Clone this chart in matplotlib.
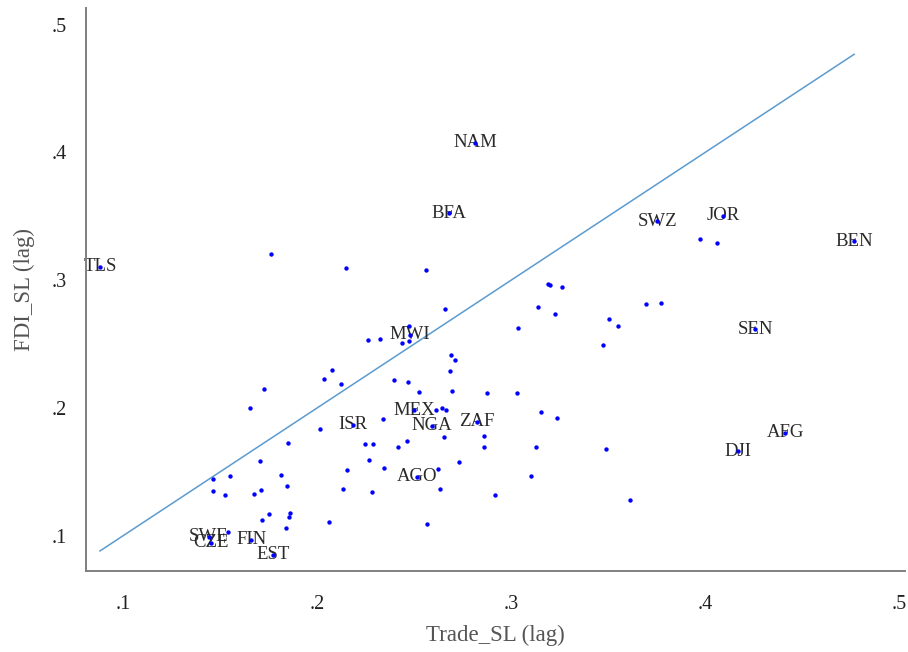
import numpy as np
import matplotlib
matplotlib.use('Agg')
import matplotlib.pyplot as plt

# ── Data: unlabeled countries (Trade_SL lag, FDI_SL lag) ──────────────────────
trade = [0.1725, 0.1653, 0.2035, 0.2014, 0.1852, 0.1704, 0.1464, 0.1553, 0.1816,
         0.1847, 0.1464, 0.1527, 0.1674, 0.1713, 0.1754, 0.1716, 0.1858, 0.1857,
         0.1838, 0.2059, 0.1543, 0.1763, 0.2147, 0.2559, 0.2658, 0.2262, 0.2326,
         0.2437, 0.2475, 0.2474, 0.2079, 0.2121, 0.2398, 0.2467, 0.2523, 0.2339,
         0.2612, 0.2644, 0.2664, 0.2246, 0.2290, 0.2464, 0.2418, 0.2652, 0.2268,
         0.2156, 0.2347, 0.2623, 0.2134, 0.2282, 0.2636, 0.2568, 0.3189, 0.3199,
         0.3261, 0.3139, 0.3228, 0.3036, 0.3505, 0.3549, 0.3475, 0.3693, 0.3773,
         0.2691, 0.2713, 0.2687, 0.2693, 0.2878, 0.3029, 0.3155, 0.3234, 0.2861,
         0.2861, 0.3129, 0.3489, 0.2730, 0.3102, 0.2919, 0.3613, 0.3971, 0.4060]
fdi = [0.2147, 0.1998, 0.2230, 0.1832, 0.1727, 0.1588, 0.1441, 0.1471, 0.1476,
       0.1388, 0.1351, 0.1320, 0.1325, 0.1356, 0.1168, 0.1126, 0.1176, 0.1150,
       0.1061, 0.1108, 0.1027, 0.3204, 0.3097, 0.3081, 0.2776, 0.2533, 0.2540,
       0.2512, 0.2639, 0.2527, 0.2298, 0.2186, 0.2218, 0.2202, 0.2125, 0.1913,
       0.1984, 0.1998, 0.1981, 0.1717, 0.1715, 0.1744, 0.1691, 0.1776, 0.1595,
       0.1517, 0.1529, 0.1523, 0.1369, 0.1343, 0.1366, 0.1090, 0.2969, 0.2964,
       0.2948, 0.2789, 0.2737, 0.2622, 0.2698, 0.2645, 0.2494, 0.2815, 0.2819,
       0.2416, 0.2374, 0.2288, 0.2134, 0.2118, 0.2118, 0.1972, 0.1922, 0.1784,
       0.1691, 0.1693, 0.1682, 0.1576, 0.1471, 0.1322, 0.1283, 0.3324, 0.3291]

# ── Data: labeled countries ───────────────────────────────────────────────────
codes = ['NAM', 'BFA', 'SWZ', 'JOR', 'BEN', 'TLS', 'SEN', 'AFG', 'DJI', 'MWI',
         'MEX', 'ISR', 'NGA', 'ZAF', 'AGO', 'SWE', 'CZE', 'FIN', 'EST']
trade_lab = [0.2814, 0.2680, 0.3753, 0.4093, 0.4768, 0.0881, 0.4258, 0.4412, 0.4170,
             0.2479, 0.2500, 0.2186, 0.2593, 0.2822, 0.2515, 0.1443, 0.1454, 0.1660,
             0.1773]
fdi_lab = [0.4074, 0.3525, 0.3460, 0.3504, 0.3303, 0.3107, 0.2617, 0.1807, 0.1660,
           0.2572, 0.1981, 0.1868, 0.1861, 0.1894, 0.1460, 0.0991, 0.0944, 0.0967,
           0.0850]

ticks = [0.1, 0.2, 0.3, 0.4, 0.5]
tick_labels = ['.1', '.2', '.3', '.4', '.5']

# ── Plot ──────────────────────────────────────────────────────────────────────
plt.rcParams['font.family'] = ['Liberation Serif', 'DejaVu Serif']

fig = plt.figure(figsize=(9.08, 6.52), dpi=100)
ax = fig.add_axes([0.0947, 0.1242, 0.902, 0.8635])

# 45-degree line over the range of the data
all_x = np.array(trade + trade_lab)
lo, hi = all_x.min(), all_x.max()
ax.plot([lo, hi], [lo, hi], color='#5b9bd0', lw=1.1, zorder=1)

for c, x, y in zip(codes, trade_lab, fdi_lab):
    ax.text(x, y, c, ha='center', va='center', fontsize=13.5, color='#2a2a2a', zorder=2)

ax.scatter(trade + trade_lab, fdi + fdi_lab, s=10, color='#0000ff', marker='o',
           linewidths=0, zorder=3)

ax.set_xlim(0.0809, 0.503)
ax.set_ylim(0.0724, 0.513)
ax.set_xticks(ticks)
ax.set_xticklabels(tick_labels)
ax.set_yticks(ticks)
ax.set_yticklabels(tick_labels)
ax.tick_params(axis='both', length=0, labelsize=14.5, colors='#222222')
ax.tick_params(axis='x', pad=17)
ax.tick_params(axis='y', pad=14)

for side in ['top', 'right']:
    ax.spines[side].set_visible(False)
for side in ['left', 'bottom']:
    ax.spines[side].set_color('#7f7f7f')
    ax.spines[side].set_linewidth(1.4)

ax.set_xlabel('Trade_SL (lag)', fontsize=16.5, color='#555555', labelpad=8)
ax.set_ylabel('FDI_SL (lag)', fontsize=16.5, color='#555555', labelpad=12)

fig.savefig('out.png', dpi=100)
